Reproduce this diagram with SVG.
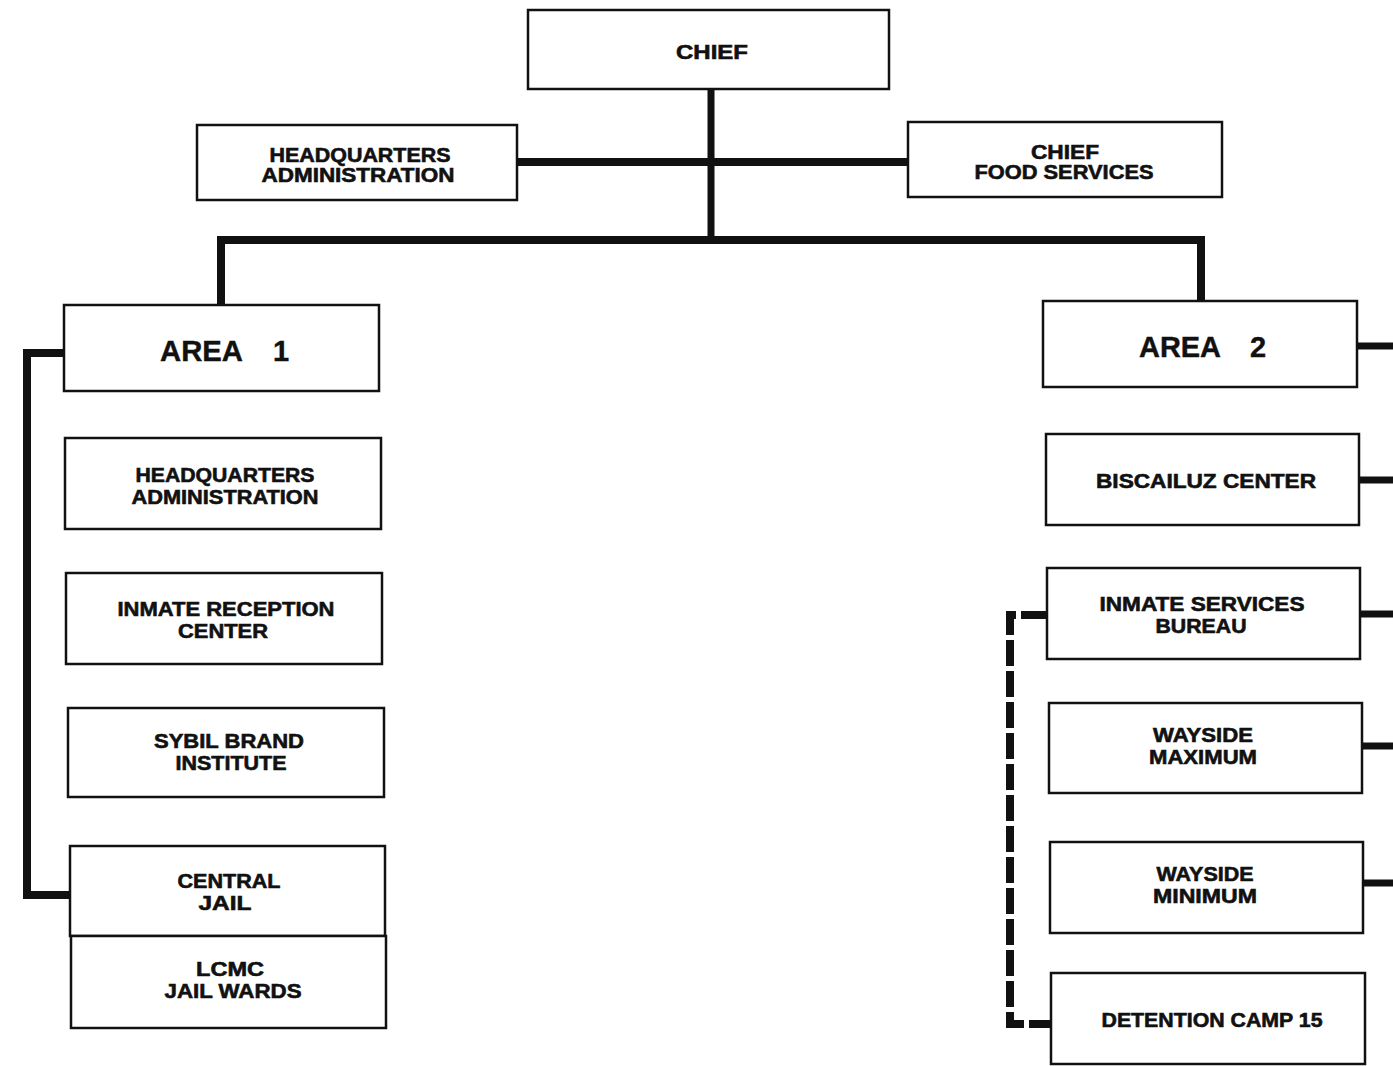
<svg xmlns="http://www.w3.org/2000/svg" width="1393" height="1066" viewBox="0 0 1393 1066">
<style>
.box{fill:#fff;stroke:#111;stroke-width:2.5}
.t{font-family:"Liberation Sans",Arial,sans-serif;font-weight:bold;font-size:20px;fill:#111;stroke:#111;stroke-width:0.6;text-anchor:middle}
.big{font-size:29px;text-anchor:start;stroke-width:0.4}
.ln{stroke:#111;fill:none;stroke-width:8}
.dash{stroke:#111;fill:none;stroke-width:8;stroke-dasharray:26 5}
</style>
<rect width="1393" height="1066" fill="#fff"/>
<g id="connectors">
<line class="ln" x1="711" y1="89" x2="711" y2="240" style="stroke-width:7"/>
<line class="ln" x1="517" y1="162" x2="908" y2="162"/>
<polyline class="ln" points="221,305 221,240 1201,240 1201,301"/>
<polyline class="ln" points="64,353 27,353 27,895 70,895"/>
<line class="ln" x1="1357" y1="346" x2="1393" y2="346" style="stroke-width:7"/>
<line class="ln" x1="1359" y1="480" x2="1393" y2="480" style="stroke-width:7"/>
<line class="ln" x1="1360" y1="614" x2="1393" y2="614" style="stroke-width:7"/>
<line class="ln" x1="1362" y1="746" x2="1393" y2="746" style="stroke-width:7"/>
<line class="ln" x1="1363" y1="883" x2="1393" y2="883" style="stroke-width:7"/>
<polyline class="dash" points="1047,615 1010,615 1010,1024 1050,1024"/>
</g>
<g id="chief"><rect class="box" x="528" y="10" width="361" height="79"/><text class="t" x="712" y="59" textLength="72" lengthAdjust="spacingAndGlyphs">CHIEF</text></g>
<g id="hq-admin"><rect class="box" x="197" y="125" width="320" height="75"/><text class="t" x="360" y="162" textLength="181" lengthAdjust="spacingAndGlyphs">HEADQUARTERS</text><text class="t" x="358" y="182" textLength="193" lengthAdjust="spacingAndGlyphs">ADMINISTRATION</text></g>
<g id="food"><rect class="box" x="908" y="122" width="314" height="75"/><text class="t" x="1065" y="159" textLength="68" lengthAdjust="spacingAndGlyphs">CHIEF</text><text class="t" x="1064" y="179" textLength="179" lengthAdjust="spacingAndGlyphs">FOOD SERVICES</text></g>
<g id="area1"><rect class="box" x="64" y="305" width="315" height="86"/><text class="t big" y="361"><tspan x="160" textLength="83" lengthAdjust="spacingAndGlyphs">AREA</tspan><tspan x="273">1</tspan></text></g>
<g id="area2"><rect class="box" x="1043" y="301" width="314" height="86"/><text class="t big" y="357"><tspan x="1139" textLength="82" lengthAdjust="spacingAndGlyphs">AREA</tspan><tspan x="1250">2</tspan></text></g>
<g id="a1-hq"><rect class="box" x="65" y="438" width="316" height="91"/><text class="t" x="225" y="482" textLength="179" lengthAdjust="spacingAndGlyphs">HEADQUARTERS</text><text class="t" x="225" y="504" textLength="187" lengthAdjust="spacingAndGlyphs">ADMINISTRATION</text></g>
<g id="reception"><rect class="box" x="66" y="573" width="316" height="91"/><text class="t" x="226" y="616" textLength="217" lengthAdjust="spacingAndGlyphs">INMATE RECEPTION</text><text class="t" x="223" y="638" textLength="90" lengthAdjust="spacingAndGlyphs">CENTER</text></g>
<g id="sybil"><rect class="box" x="68" y="708" width="316" height="89"/><text class="t" x="229" y="748" textLength="150" lengthAdjust="spacingAndGlyphs">SYBIL BRAND</text><text class="t" x="231" y="770" textLength="111" lengthAdjust="spacingAndGlyphs">INSTITUTE</text></g>
<g id="central"><rect class="box" x="70" y="846" width="315" height="90"/><text class="t" x="229" y="888" textLength="103" lengthAdjust="spacingAndGlyphs">CENTRAL</text><text class="t" x="225" y="910" textLength="53" lengthAdjust="spacingAndGlyphs">JAIL</text></g>
<g id="lcmc"><rect class="box" x="71" y="936" width="315" height="92"/><text class="t" x="230" y="976" textLength="68" lengthAdjust="spacingAndGlyphs">LCMC</text><text class="t" x="233" y="998" textLength="137" lengthAdjust="spacingAndGlyphs">JAIL WARDS</text></g>
<g id="biscailuz"><rect class="box" x="1046" y="434" width="313" height="91"/><text class="t" x="1206" y="488" textLength="220" lengthAdjust="spacingAndGlyphs">BISCAILUZ  CENTER</text></g>
<g id="isb"><rect class="box" x="1047" y="568" width="313" height="91"/><text class="t" x="1202" y="611" textLength="205" lengthAdjust="spacingAndGlyphs">INMATE SERVICES</text><text class="t" x="1201" y="633" textLength="91" lengthAdjust="spacingAndGlyphs">BUREAU</text></g>
<g id="wmax"><rect class="box" x="1049" y="703" width="313" height="90"/><text class="t" x="1203" y="742" textLength="100" lengthAdjust="spacingAndGlyphs">WAYSIDE</text><text class="t" x="1203" y="764" textLength="108" lengthAdjust="spacingAndGlyphs">MAXIMUM</text></g>
<g id="wmin"><rect class="box" x="1050" y="842" width="313" height="91"/><text class="t" x="1205" y="881" textLength="97" lengthAdjust="spacingAndGlyphs">WAYSIDE</text><text class="t" x="1205" y="903" textLength="104" lengthAdjust="spacingAndGlyphs">MINIMUM</text></g>
<g id="camp15"><rect class="box" x="1051" y="973" width="314" height="91"/><text class="t" x="1212" y="1027" textLength="221" lengthAdjust="spacingAndGlyphs">DETENTION  CAMP 15</text></g>
</svg>
